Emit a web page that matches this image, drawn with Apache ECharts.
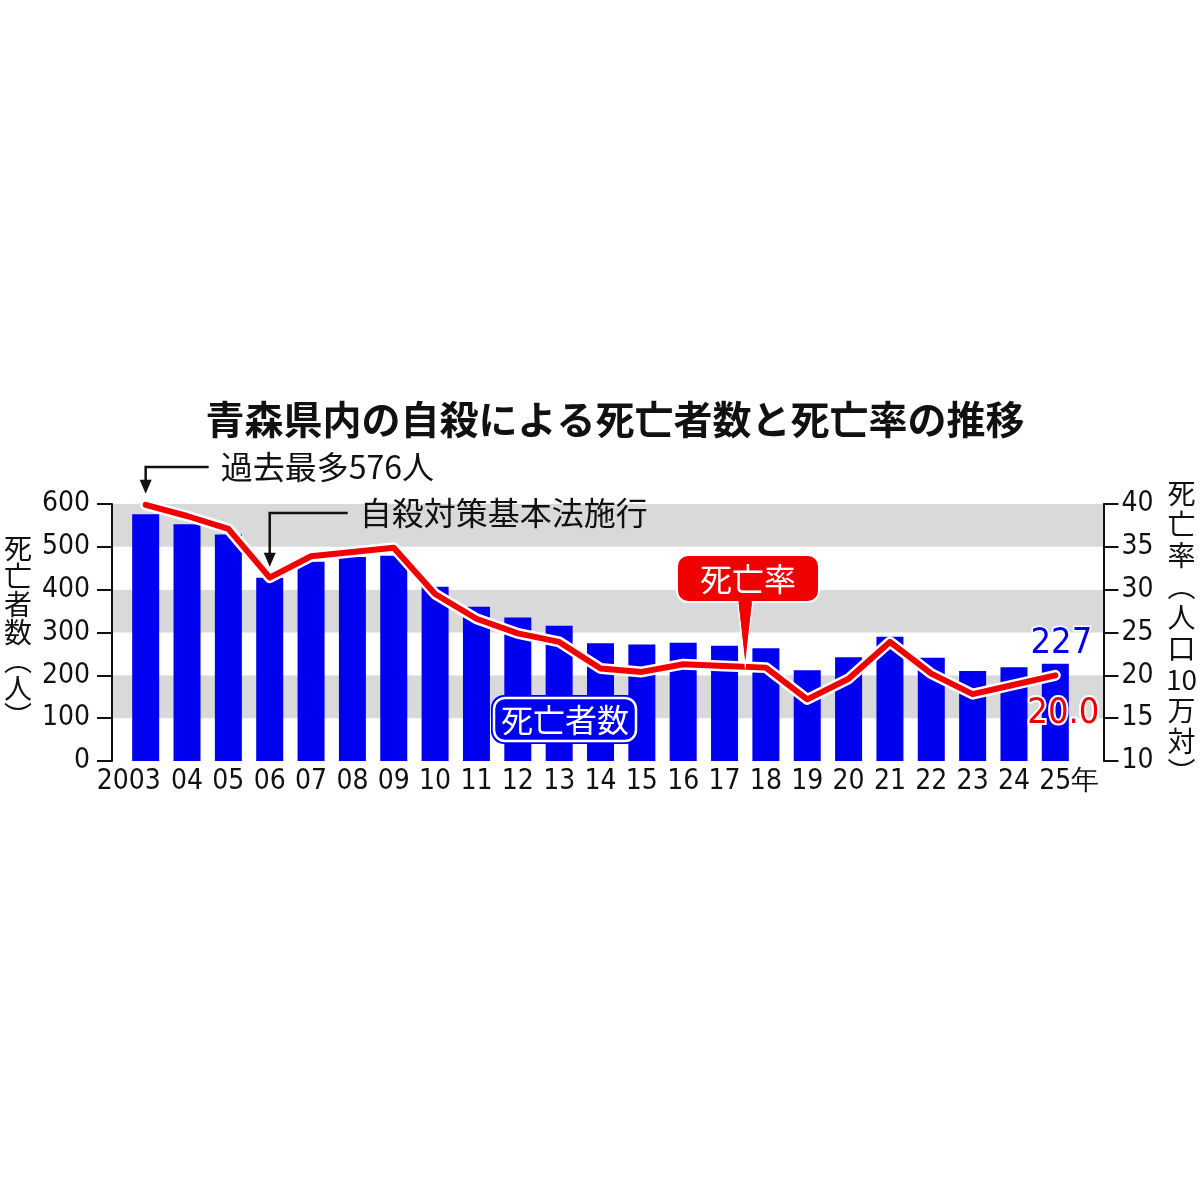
<!DOCTYPE html>
<html>
<head>
<meta charset="utf-8">
<script src="https://cdn.jsdelivr.net/npm/echarts@6/dist/echarts.min.js"></script>
<style>
  html, body { margin: 0; background: #fff; }
  #main { width: 1200px; height: 1200px; }
</style>
</head>
<body>
<div id="main"></div>
<script>
// 年（横軸）
const years = ['2003', '04', '05', '06', '07', '08', '09', '10', '11', '12', '13', '14',
  '15', '16', '17', '18', '19', '20', '21', '22', '23', '24', '25年'];
// 死亡者数（人）
const deaths = [576, 553, 529, 428, 465, 476, 479, 407, 360, 335, 316, 275,
  272, 276, 269, 263, 212, 242, 290, 241, 210, 219, 227];
// 死亡率（人口10万対）
const rates = [39.9, 38.6, 37.1, 31.4, 33.9, 34.4, 34.9, 29.5, 26.6, 24.9, 23.9, 20.8,
  20.4, 21.3, 21.1, 20.9, 17.2, 19.6, 23.9, 20.2, 17.8, 18.9, 20.0];
// 目盛り
const countTicks = [0, 100, 200, 300, 400, 500, 600];
const rateTicks = [10, 15, 20, 25, 30, 35, 40];

const NARROW = "'DejaVu Sans Condensed', 'Liberation Sans Narrow', sans-serif";
const JP = "'Noto Sans CJK JP', sans-serif";
const BLUE = '#0000f0';
const RED = '#f00000';
const last = years.length - 1;

const chart = echarts.init(document.getElementById('main'));

const option = {
  animation: false,
  backgroundColor: '#fff',
  title: {
    text: '青森県内の自殺による死亡者数と死亡率の推移',
    left: 610,
    textAlign: 'center',
    top: 395,
    textStyle: { fontFamily: JP, fontWeight: 'bold', fontSize: 39, color: '#111' }
  },
  grid: [
    // 目盛り・帯用
    { left: 112, right: 96, top: 504, bottom: 439 },
    // データ用
    { left: 125, right: 124, top: 504, bottom: 439 }
  ],
  xAxis: [
    { gridIndex: 0, type: 'value', min: 0, max: 1, show: false },
    {
      gridIndex: 1,
      type: 'category',
      data: years,
      axisLine: { show: false },
      axisTick: { show: false },
      axisLabel: {
        interval: 0,
        margin: 7,
        fontFamily: NARROW,
        fontSize: 28,
        color: '#111',
        formatter: (v, i) => {
          if (v.endsWith('年')) return '{p| }' + v;
          if (i === 0) return v + '{q| }';
          return v;
        },
        rich: { p: { width: 28 }, q: { width: 34 } }
      }
    }
  ],
  yAxis: [
    {
      gridIndex: 0,
      type: 'value',
      position: 'left',
      min: countTicks[0],
      max: countTicks[countTicks.length - 1],
      interval: 100,
      axisLine: { show: true, lineStyle: { color: '#111', width: 2 } },
      axisTick: { show: true, length: 15, lineStyle: { color: '#111', width: 2 } },
      axisLabel: { margin: 22, fontFamily: NARROW, fontSize: 28, color: '#111' },
      splitLine: { show: false },
      splitArea: { show: true, areaStyle: { color: ['#ffffff', '#d9d9d9'] } },
      name: '死\n亡\n者\n数\n︵\n人\n︶',
      nameLocation: 'middle',
      nameRotate: 0,
      nameGap: 94,
      nameTextStyle: {
        fontFamily: JP, fontSize: 28, lineHeight: 28, color: '#111',
        align: 'center', verticalAlign: 'middle'
      }
    },
    {
      gridIndex: 0,
      type: 'value',
      position: 'right',
      min: rateTicks[0],
      max: rateTicks[rateTicks.length - 1],
      interval: 5,
      axisLine: { show: true, lineStyle: { color: '#111', width: 2 } },
      axisTick: { show: true, length: 15, lineStyle: { color: '#111', width: 2 } },
      axisLabel: { margin: 18, fontFamily: NARROW, fontSize: 28, color: '#111' },
      splitLine: { show: false },
      name: '死\n亡\n率\n︵\n人\n口\n10\n万\n対\n︶',
      nameLocation: 'middle',
      nameRotate: 0,
      nameGap: 78,
      nameTextStyle: {
        fontFamily: JP, fontSize: 28, lineHeight: 31, color: '#111',
        align: 'center', verticalAlign: 'middle'
      }
    },
    { gridIndex: 1, type: 'value', min: 0, max: 600, show: false },
    { gridIndex: 1, type: 'value', min: 10, max: 40, show: false }
  ],
  series: [
    {
      name: '死亡者数',
      type: 'bar',
      xAxisIndex: 1,
      yAxisIndex: 2,
      barWidth: 27,
      itemStyle: { color: BLUE },
      data: deaths.map((v, i) => i === last ? {
        value: v,
        label: {
          show: true, position: 'top', distance: 2, offset: [6, 0],
          fontFamily: NARROW, fontSize: 36, color: BLUE,
          textBorderColor: '#fff', textBorderWidth: 3
        }
      } : v)
    },
    {
      name: '縁',
      type: 'line',
      xAxisIndex: 1,
      yAxisIndex: 3,
      symbol: 'none',
      lineStyle: { color: '#fff', width: 11, cap: 'round', join: 'round' },
      data: rates
    },
    {
      name: '死亡率',
      type: 'line',
      xAxisIndex: 1,
      yAxisIndex: 3,
      symbol: 'circle',
      symbolSize: 0.1,
      showSymbol: true,
      itemStyle: { color: RED },
      lineStyle: { color: RED, width: 6, cap: 'round', join: 'round' },
      data: rates.map((v, i) => i === last ? {
        value: v,
        label: {
          show: true, position: 'bottom', distance: 20, offset: [8, 0],
          formatter: p => p.value.toFixed(1),
          fontFamily: NARROW, fontSize: 36, color: RED,
          textBorderColor: '#fff', textBorderWidth: 4
        }
      } : v)
    }
  ]
};

chart.setOption(option);

// 注記（矢印）: データ点の位置から描く
const notes = [
  { idx: 0, text: '過去最多576人', textY: 467, gap: 75 },
  { idx: 3, text: '自殺対策基本法施行', textY: 513, gap: 90 }
];
const graphics = [];
notes.forEach(n => {
  const p = chart.convertToPixel({ seriesIndex: 2 }, [n.idx, rates[n.idx]]);
  const tipY = p[1] - 11;
  graphics.push({
    type: 'polyline', z: 100,
    shape: { points: [[p[0] + n.gap - 12, n.textY], [p[0], n.textY], [p[0], tipY - 12]] },
    style: { stroke: '#111', lineWidth: 2.5, fill: null }
  });
  graphics.push({
    type: 'polygon', z: 100,
    shape: { points: [[p[0] - 6, tipY - 14], [p[0] + 6, tipY - 14], [p[0], tipY]] },
    style: { fill: '#111' }
  });
  graphics.push({
    type: 'text', z: 100,
    x: p[0] + n.gap,
    y: n.textY,
    style: {
      text: n.text, fontFamily: JP, fontSize: 32, fill: '#111',
      verticalAlign: 'middle', align: 'left'
    }
  });
});

// 死亡率の吹き出し（2017と18の間を指す）
const a = chart.convertToPixel({ seriesIndex: 2 }, [14, rates[14]]);
const b = chart.convertToPixel({ seriesIndex: 2 }, [15, rates[15]]);
const tip = [(a[0] + b[0]) / 2, (a[1] + b[1]) / 2 - 2];
graphics.push({
  type: 'polygon', z: 100,
  shape: { points: [[tip[0] - 8, 598], [tip[0] + 8, 598], [tip[0], tip[1]]] },
  style: { fill: RED, stroke: '#fff', lineWidth: 1.5 }
});
graphics.push({
  type: 'rect', z: 101,
  shape: { x: 677, y: 555, width: 142, height: 47, r: 11 },
  style: { fill: RED, stroke: '#fff', lineWidth: 2 }
});
graphics.push({
  type: 'polygon', z: 102,
  shape: { points: [[tip[0] - 7, 598], [tip[0] + 7, 598], [tip[0], tip[1] - 3]] },
  style: { fill: RED }
});
graphics.push({
  type: 'text', z: 103,
  x: 748, y: 579,
  style: {
    text: '死亡率', fontFamily: JP, fontSize: 32, fill: '#fff',
    align: 'center', verticalAlign: 'middle'
  }
});

// 死亡者数のラベル
graphics.push({
  type: 'rect', z: 100,
  shape: { x: 491, y: 695, width: 148, height: 49, r: 13 },
  style: { fill: BLUE }
});
graphics.push({
  type: 'rect', z: 101,
  shape: { x: 494, y: 698, width: 142, height: 43, r: 11 },
  style: { fill: BLUE, stroke: '#fff', lineWidth: 2.5 }
});
graphics.push({
  type: 'text', z: 102,
  x: 565, y: 720,
  style: {
    text: '死亡者数', fontFamily: JP, fontSize: 32, fill: '#fff',
    align: 'center', verticalAlign: 'middle'
  }
});

chart.setOption({ graphic: graphics });
</script>
</body>
</html>
